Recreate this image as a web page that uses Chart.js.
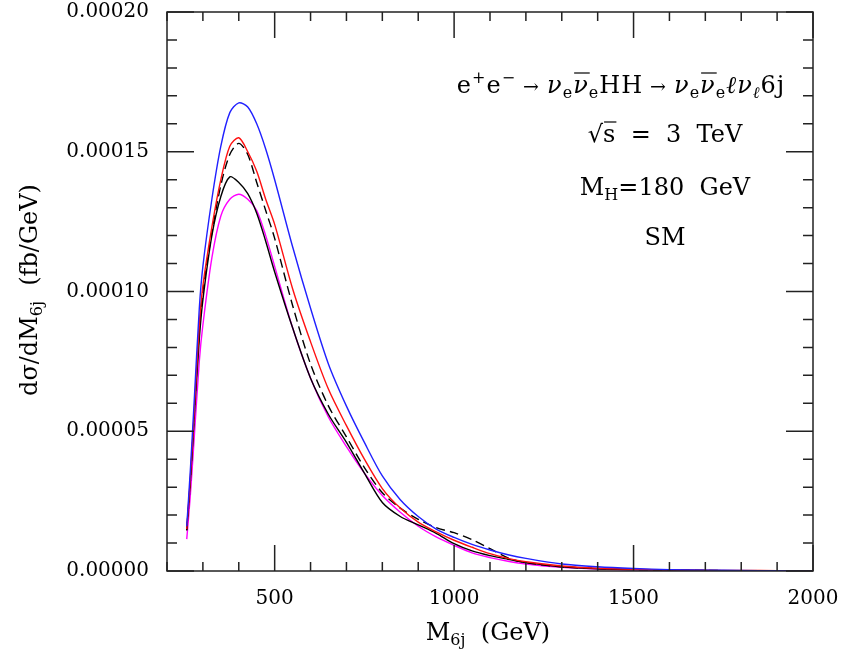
<!DOCTYPE html>
<html>
<head>
<meta charset="utf-8">
<script src="https://cdn.jsdelivr.net/npm/chart.js@4.4.1/dist/chart.umd.min.js"></script>
<style>
  html, body { margin: 0; padding: 0; background: #fff; }
  canvas { display: block; }
</style>
</head>
<body>
<canvas id="grafico" width="845" height="654"></canvas>
<script>
// M_6j bins (GeV)
const masas = [255, 265, 275, 290, 300, 325, 350, 375, 400, 425, 450, 475, 500, 550, 600, 650, 700, 750, 800, 850, 900, 950, 1000, 1050, 1100, 1150, 1200, 1300, 1400, 1500, 1600, 1700, 1800, 1900, 2000];

// dsigma/dM_6j in units of 1e-5 fb/GeV
const azul    = [1.6, 3.6, 5.9, 9.4, 10.9, 13.3, 15.2, 16.4, 16.75, 16.6, 16.0, 15.1, 14.0, 11.6, 9.4, 7.4, 5.9, 4.6, 3.4, 2.55, 1.95, 1.5, 1.2, 0.95, 0.75, 0.58, 0.45, 0.25, 0.15, 0.09, 0.05, 0.03, 0.02, 0.01, 0.0];
const rojo    = [1.5, 3.3, 5.5, 8.8, 10.2, 12.3, 14.0, 15.2, 15.5, 15.0, 14.3, 13.3, 12.4, 10.1, 8.2, 6.5, 5.2, 4.0, 2.95, 2.25, 1.75, 1.4, 1.1, 0.85, 0.62, 0.45, 0.33, 0.18, 0.1, 0.06, 0.04, 0.02, 0.02, 0.01, 0.0];
const trazos  = [1.45, 3.2, 5.4, 8.6, 10.0, 12.1, 13.8, 14.9, 15.3, 14.9, 13.9, 12.9, 11.9, 9.5, 7.4, 5.9, 4.8, 3.7, 2.8, 2.25, 1.85, 1.55, 1.37, 1.12, 0.8, 0.47, 0.3, 0.15, 0.09, 0.05, 0.03, 0.02, 0.01, 0.01, 0.0];
const negro   = [1.47, 3.2, 5.3, 8.3, 9.7, 12.0, 13.4, 14.1, 13.9, 13.5, 12.8, 11.8, 10.7, 8.7, 6.9, 5.6, 4.6, 3.5, 2.45, 1.95, 1.65, 1.35, 0.98, 0.72, 0.55, 0.42, 0.3, 0.15, 0.08, 0.05, 0.03, 0.02, 0.01, 0.01, 0.0];
const magenta = [1.14, 2.7, 4.6, 7.5, 8.8, 11.2, 12.7, 13.3, 13.48, 13.3, 12.9, 12.0, 10.9, 8.7, 6.9, 5.5, 4.45, 3.5, 2.7, 2.1, 1.6, 1.22, 0.92, 0.65, 0.48, 0.35, 0.25, 0.13, 0.07, 0.04, 0.03, 0.02, 0.01, 0.01, 0.0];

const xTicks = [500, 1000, 1500, 2000];
const yTicks = [0, 5, 10, 15, 20];
const yTickLabels = ['0.00000', '0.00005', '0.00010', '0.00015', '0.00020'];

const SERIF = '"DejaVu Serif", serif';

function serie(vals, color, dash) {
    return {
        data: masas.map((m, i) => ({ x: m, y: vals[i] })),
        borderColor: color,
        borderWidth: 1.4,
        borderDash: dash || [],
        pointRadius: 0,
        fill: false,
        tension: 0.3
    };
}

// texto con subindices / superindices
function texto(ctx, partes, cx, base) {
    let w = 0;
    partes.forEach(p => { ctx.font = p.f; p.w = ctx.measureText(p.t).width; w += p.w; });
    let x = cx - w / 2;
    partes.forEach(p => {
        ctx.font = p.f;
        ctx.fillText(p.t, x, base + (p.dy || 0));
        if (p.over) {
            ctx.beginPath();
            ctx.moveTo(x + 1, base - 20);
            ctx.lineTo(x + p.w + 1, base - 20);
            ctx.stroke();
        }
        x += p.w;
    });
}

const N = '24px ' + SERIF, NI = 'italic 24px ' + SERIF, S = '16px ' + SERIF, SI = 'italic 16px ' + SERIF;
const F = '19px ' + SERIF;

const marco = {
    id: 'marco',
    afterDatasetsDraw(chart) {
        const { ctx, chartArea: a, scales: { x, y } } = chart;
        ctx.save();
        ctx.strokeStyle = '#222';
        ctx.lineWidth = 1.5;
        ctx.strokeRect(a.left, a.top, a.right - a.left, a.bottom - a.top);
        ctx.beginPath();
        for (let v = 200; v <= 2000; v += 100) {
            const px = x.getPixelForValue(v);
            const l = v % 500 === 0 ? 26 : 9;
            ctx.moveTo(px, a.bottom); ctx.lineTo(px, a.bottom - l);
            ctx.moveTo(px, a.top); ctx.lineTo(px, a.top + l);
        }
        for (let v = 0; v <= 20; v += 1) {
            const py = y.getPixelForValue(v);
            const l = v % 5 === 0 ? 27 : 10;
            ctx.moveTo(a.left, py); ctx.lineTo(a.left + l, py);
            ctx.moveTo(a.right, py); ctx.lineTo(a.right - l, py);
        }
        ctx.stroke();

        ctx.fillStyle = '#000';
        ctx.strokeStyle = '#000';
        ctx.lineWidth = 1.2;
        ctx.textAlign = 'left';
        ctx.textBaseline = 'alphabetic';

        ctx.letterSpacing = '1px';
        texto(ctx, [
            { t: 'e', f: N }, { t: '+', f: S, dy: -10 }, { t: 'e', f: N }, { t: '−', f: S, dy: -10 },
            { t: ' → ', f: F }, { t: 'ν', f: NI }, { t: 'e', f: S, dy: 5 }, { t: 'ν', f: NI, over: true }, { t: 'e', f: S, dy: 5 },
            { t: 'HH', f: N }, { t: ' → ', f: F }, { t: 'ν', f: NI }, { t: 'e', f: S, dy: 5 }, { t: 'ν', f: NI, over: true }, { t: 'e', f: S, dy: 5 },
            { t: 'ℓ', f: NI }, { t: 'ν', f: NI }, { t: 'ℓ', f: SI, dy: 5 }, { t: '6j', f: N }
        ], 621, 93);
        ctx.letterSpacing = '0px';
        texto(ctx, [{ t: '√', f: N }, { t: 's', f: N, over: true }, { t: '  =  3  TeV', f: N }], 665, 142);
        texto(ctx, [{ t: 'M', f: N }, { t: 'H', f: S, dy: 5 }, { t: '=180  GeV', f: N }], 665, 195);
        texto(ctx, [{ t: 'SM', f: N }], 665, 245);

        // titulos de ejes
        texto(ctx, [{ t: 'M', f: N }, { t: '6j', f: S, dy: 5 }, { t: '  (GeV)', f: N }], 488, 640);
        ctx.translate(37, 290);
        ctx.rotate(-Math.PI / 2);
        texto(ctx, [{ t: 'dσ/dM', f: N }, { t: '6j', f: S, dy: 5 }, { t: '  (fb/GeV)', f: N }], 0, 0);
        ctx.restore();
    }
};

window.addEventListener('load', () => {
    const ctx = document.querySelector('#grafico').getContext('2d');

    new Chart(ctx, {
        type: 'line',
        data: {
            datasets: [
                serie(azul, '#2020ff'),
                serie(rojo, '#ff1010'),
                serie(trazos, '#000000', [9, 5]),
                serie(negro, '#000000'),
                serie(magenta, '#ff00ff')
            ]
        },
        options: {
            responsive: false,
            animation: false,
            devicePixelRatio: 1,
            layout: { padding: { left: 0, right: 32, top: 12, bottom: 0 } },
            plugins: { legend: { display: false }, tooltip: { enabled: false } },
            scales: {
                x: {
                    type: 'linear',
                    min: 200,
                    max: 2000,
                    grid: { display: false },
                    border: { display: false },
                    afterBuildTicks: s => { s.ticks = xTicks.map(v => ({ value: v })); },
                    afterFit: s => { s.height = 83; s.paddingLeft = 0; s.paddingRight = 0; },
                    ticks: {
                        color: '#000',
                        font: { family: SERIF, size: 20 },
                        padding: 8,
                        maxRotation: 0,
                        callback: v => String(v)
                    }
                },
                y: {
                    min: 0,
                    max: 20,
                    grid: { display: false },
                    border: { display: false },
                    afterBuildTicks: s => { s.ticks = yTicks.map(v => ({ value: v })); },
                    afterFit: s => { s.width = 167; s.paddingTop = 0; s.paddingBottom = 0; },
                    ticks: {
                        color: '#000',
                        font: { family: SERIF, size: 20 },
                        padding: 10,
                        callback: (v) => yTickLabels[yTicks.indexOf(v)]
                    }
                }
            }
        },
        plugins: [marco]
    });
});
</script>
</body>
</html>
